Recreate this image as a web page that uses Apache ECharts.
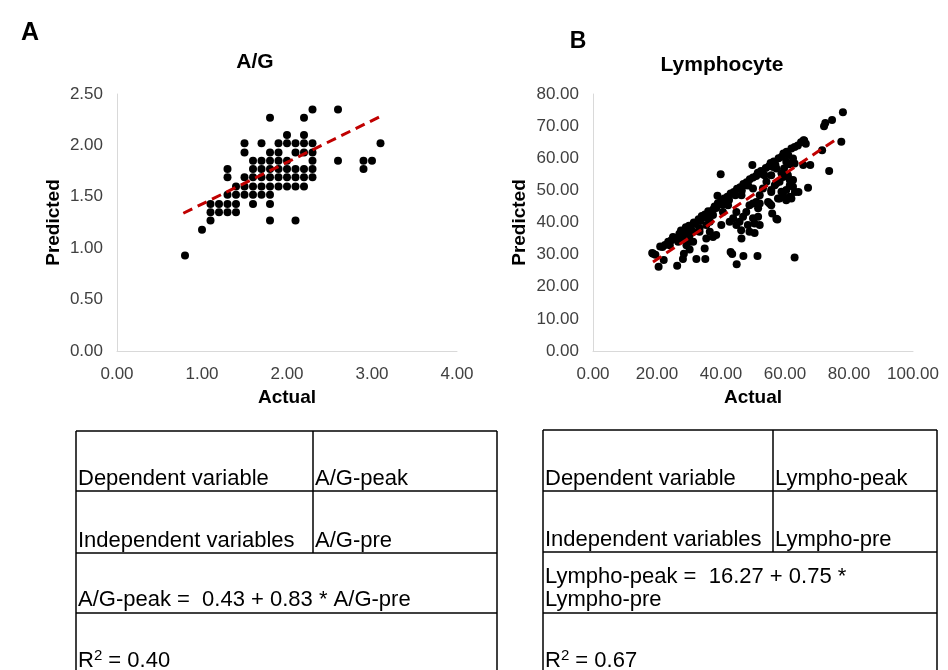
<!DOCTYPE html>
<html>
<head>
<meta charset="utf-8">
<script src="https://cdn.jsdelivr.net/npm/echarts@6/dist/echarts.min.js"></script>
<style>
  html, body { margin: 0; padding: 0; background: #fff; }
  #main { width: 948px; height: 670px; }
</style>
</head>
<body>
<div id="main"></div>
<script>
// A/G panel: [actual, predicted]
const agPoints = [
  [2.3, 2.35], [2.6, 2.35],
  [1.8, 2.27], [2.2, 2.27],
  [2.0, 2.10], [2.2, 2.10],
  [1.5, 2.02], [1.7, 2.02], [1.9, 2.02], [2.0, 2.02], [2.1, 2.02], [2.2, 2.02], [2.3, 2.02], [3.1, 2.02],
  [1.5, 1.93], [1.8, 1.93], [1.9, 1.93], [2.1, 1.93], [2.2, 1.93], [2.3, 1.93],
  [1.6, 1.85], [1.7, 1.85], [1.8, 1.85], [1.9, 1.85], [2.0, 1.85], [2.3, 1.85], [2.6, 1.85], [2.9, 1.85], [3.0, 1.85],
  [1.3, 1.77], [1.6, 1.77], [1.7, 1.77], [1.8, 1.77], [1.9, 1.77], [2.0, 1.77], [2.1, 1.77], [2.2, 1.77], [2.3, 1.77], [2.9, 1.77],
  [1.3, 1.69], [1.5, 1.69], [1.6, 1.69], [1.7, 1.69], [1.8, 1.69], [1.9, 1.69], [2.0, 1.69], [2.1, 1.69], [2.2, 1.69], [2.3, 1.69],
  [1.4, 1.60], [1.5, 1.60], [1.6, 1.60], [1.7, 1.60], [1.8, 1.60], [1.9, 1.60], [2.0, 1.60], [2.1, 1.60], [2.2, 1.60],
  [1.3, 1.52], [1.4, 1.52], [1.5, 1.52], [1.6, 1.52], [1.7, 1.52], [1.8, 1.52],
  [1.1, 1.43], [1.2, 1.43], [1.3, 1.43], [1.4, 1.43], [1.6, 1.43], [1.8, 1.43],
  [1.1, 1.35], [1.2, 1.35], [1.3, 1.35], [1.4, 1.35],
  [1.1, 1.27], [1.8, 1.27], [2.1, 1.27],
  [1.0, 1.18],
  [0.8, 0.93]
];
const agTrend = [[0.78, 1.34], [3.12, 2.29]];

// Lymphocyte panel: [actual, predicted]
const lyPoints = [
  // upper band
  [18.5, 30.5], [19.5, 30.0], [21.0, 32.5], [22.5, 33.0], [23.5, 34.0], [24.5, 34.5], [25.0, 35.5], [26.0, 35.0],
  [27.0, 36.5], [27.5, 37.5], [28.5, 37.0], [29.0, 38.5], [30.0, 39.0], [30.5, 38.0], [31.5, 40.0], [32.0, 39.5],
  [33.0, 41.0], [33.5, 40.5], [34.0, 42.0], [35.0, 42.5], [35.5, 41.5], [36.0, 43.5], [36.5, 43.0], [37.5, 44.0],
  [38.0, 45.0], [38.5, 44.5], [39.0, 46.0], [40.0, 46.5], [40.5, 45.5], [41.0, 47.5], [42.0, 48.0], [42.5, 47.0],
  [43.0, 49.0], [44.0, 49.5], [44.5, 48.5], [45.0, 50.5], [46.0, 51.0], [46.5, 50.0], [47.0, 52.0], [48.0, 52.5],
  [48.5, 51.5], [49.0, 53.5], [50.0, 54.0], [51.0, 54.5], [51.5, 55.5], [52.5, 56.0], [53.0, 55.0], [54.0, 57.0],
  [55.0, 57.5], [55.5, 58.5], [56.5, 59.0], [57.0, 58.0], [58.0, 60.0], [59.0, 60.5], [59.5, 61.5], [60.5, 62.0],
  [61.0, 61.0], [62.0, 63.0], [63.0, 63.5], [64.0, 64.0], [65.0, 65.0], [66.0, 65.5], [66.5, 64.5],
  // above band and top right
  [39.9, 55.0], [38.9, 48.3], [49.8, 57.9],
  [72.2, 70.0], [72.6, 71.0], [74.7, 71.9], [78.1, 74.3], [77.6, 65.1], [71.6, 62.5], [73.8, 56.0],
  [65.8, 65.6], [67.9, 57.9], [65.7, 57.9], [61.3, 58.1], [67.2, 50.8], [64.2, 49.5],
  // middle scatter
  [46.4, 48.5], [47.9, 51.6], [50.0, 50.6], [51.0, 46.4], [51.6, 41.8], [52.1, 39.2], [48.9, 37.1], [46.4, 35.0],
  [48.4, 39.2], [44.8, 39.2], [43.8, 41.3], [46.9, 41.8], [55.7, 49.5], [56.8, 51.6], [58.3, 52.7], [58.9, 55.3],
  [59.4, 48.5], [60.4, 46.9], [61.5, 51.6], [62.0, 47.5], [62.5, 53.2], [60.9, 54.7], [55.7, 45.4], [57.8, 47.5],
  [54.7, 46.4], [57.6, 40.9], [56.0, 42.8], [57.3, 41.2], [55.2, 45.9], [58.3, 47.5], [61.5, 48.0], [63.1, 49.5],
  [50.5, 39.7], [50.5, 36.7], [46.3, 37.6], [52.1, 45.9], [50.0, 45.9],
  [40.6, 43.3], [42.2, 45.4], [42.7, 40.2], [44.8, 43.3], [45.8, 40.2], [47.9, 43.3], [48.9, 45.4], [50.0, 41.3],
  [51.6, 44.4], [52.1, 48.5], [53.1, 50.6], [54.2, 52.7], [53.6, 54.7], [55.7, 54.7], [57.3, 56.8], [59.7, 56.8],
  [60.4, 58.9], [62.5, 59.9], [63.0, 58.4], [56.3, 57.3], [59.4, 54.2], [61.5, 53.2], [62.5, 51.1], [60.4, 50.1],
  [58.9, 49.6], [57.3, 52.2], [55.7, 50.1],
  // lower left scatter
  [36.5, 40.2], [37.5, 42.3], [35.4, 39.2], [33.3, 38.2], [31.3, 37.1], [36.5, 37.1], [38.5, 36.1], [40.1, 39.2],
  [28.1, 35.0], [30.2, 34.0], [26.6, 34.0], [24.0, 32.9],
  [33.3, 37.1], [35.4, 35.0], [37.5, 35.5], [30.2, 36.0], [29.2, 32.9], [31.3, 34.0], [34.9, 31.9],
  // bottom outliers
  [20.5, 26.2], [18.8, 30.3], [22.1, 28.3], [21.7, 32.4], [26.3, 26.5], [28.1, 28.6], [28.4, 30.3], [30.2, 31.6],
  [32.3, 28.6], [35.1, 28.6], [43.0, 30.8], [43.5, 30.2], [44.9, 27.0], [47.0, 29.6], [51.4, 29.6], [63.0, 29.1]
];
const lyTrend = [[18.75, 27.7], [76.0, 65.9]];

const agTable = ['Dependent variable', 'A/G-peak', 'Independent variables', 'A/G-pre'];
const agEquation = ['A/G-peak =  0.43 + 0.83 * A/G-pre'];
const agR2 = '0.40';
const lyTable = ['Dependent variable', 'Lympho-peak', 'Independent variables', 'Lympho-pre'];
const lyEquation = ['Lympho-peak =  16.27 + 0.75 *', 'Lympho-pre'];
const lyR2 = '0.67';

const FONT = 'Liberation Sans, Arial, sans-serif';
const chart = echarts.init(document.getElementById('main'));

function valueAxis(idx, max, interval, name, gap, isX) {
  return {
    type: 'value',
    gridIndex: idx,
    min: 0,
    max: max,
    interval: interval,
    name: name,
    nameLocation: 'middle',
    nameGap: gap,
    nameTextStyle: { fontFamily: FONT, fontSize: 19, fontWeight: 'bold', color: '#000' },
    axisLine: { show: true, lineStyle: { color: '#d9d9d9', width: 1 } },
    axisTick: { show: false },
    splitLine: { show: false },
    axisLabel: {
      fontFamily: FONT,
      fontSize: 17,
      color: '#404040',
      margin: isX ? 15 : 14,
      formatter: (v) => v.toFixed(2)
    }
  };
}

// table drawn as graphic lines + texts
function tableGraphic(left, right, top, col, rows, cells, eq, r2) {
  const els = [];
  const line = (x1, y1, x2, y2) => ({
    type: 'line',
    shape: { x1, y1, x2, y2 },
    style: { stroke: '#000', lineWidth: 1.5 }
  });
  const bottom = 690;
  els.push(line(left, top, right, top));
  els.push(line(left, top, left, bottom));
  els.push(line(right, top, right, bottom));
  rows.forEach((y) => els.push(line(left, y, right, y)));
  els.push(line(col, top, col, rows[1]));
  const txt = (x, y, t) => ({
    type: 'text',
    x, y,
    style: { text: t, fontFamily: FONT, fontSize: 22, fill: '#000', verticalAlign: 'middle' }
  });
  els.push(txt(left + 2, rows[0] - 12, cells[0]));
  els.push(txt(col + 2, rows[0] - 12, cells[1]));
  els.push(txt(left + 2, rows[1] - 12, cells[2]));
  els.push(txt(col + 2, rows[1] - 12, cells[3]));
  if (eq.length === 1) {
    els.push(txt(left + 2, rows[2] - 13, eq[0]));
  } else {
    els.push(txt(left + 2, rows[1] + 25, eq[0]));
    els.push(txt(left + 2, rows[1] + 48, eq[1]));
  }
  els.push({
    type: 'text',
    x: left + 2,
    y: 660,
    style: {
      text: '{a|R}{s|2}{a| = ' + r2 + '}',
      verticalAlign: 'middle',
      rich: {
        a: { fontFamily: FONT, fontSize: 22, fill: '#000', verticalAlign: 'bottom', lineHeight: 24 },
        s: { fontFamily: FONT, fontSize: 15, fill: '#000', verticalAlign: 'top', lineHeight: 24 }
      }
    }
  });
  return els;
}

const head = (x, y, t, size) => ({
  type: 'text',
  x, y,
  style: { text: t, fontFamily: FONT, fontSize: size, fontWeight: 'bold', fill: '#000', align: 'center', verticalAlign: 'middle' }
});

chart.setOption({
  backgroundColor: '#fff',
  animation: false,
  grid: [
    { left: 117, top: 94, width: 340, height: 257 },
    { left: 593, top: 94, width: 320, height: 257 }
  ],
  xAxis: [
    valueAxis(0, 4, 1, 'Actual', 37, true),
    valueAxis(1, 100, 20, 'Actual', 37, true)
  ],
  yAxis: [
    valueAxis(0, 2.5, 0.5, 'Predicted', 54, false),
    valueAxis(1, 80, 10, 'Predicted', 64, false)
  ],
  series: [
    {
      type: 'scatter', xAxisIndex: 0, yAxisIndex: 0,
      symbolSize: 8, itemStyle: { color: '#000', opacity: 1 },
      data: agPoints
    },
    {
      type: 'line', xAxisIndex: 0, yAxisIndex: 0,
      symbol: 'none', data: agTrend,
      lineStyle: { color: '#c00000', width: 3, type: [10, 6] }
    },
    {
      type: 'scatter', xAxisIndex: 1, yAxisIndex: 1,
      symbolSize: 8, itemStyle: { color: '#000', opacity: 1 },
      data: lyPoints
    },
    {
      type: 'line', xAxisIndex: 1, yAxisIndex: 1,
      symbol: 'none', data: lyTrend, z: 3,
      lineStyle: { color: '#c00000', width: 3, type: [10, 6] }
    }
  ],
  graphic: [
    head(30, 33, 'A', 25),
    head(578, 42, 'B', 23),
    head(255, 62, 'A/G', 21),
    head(722, 65, 'Lymphocyte', 21)
  ]
    .concat(tableGraphic(76, 497, 431, 313, [491, 553, 613], agTable, agEquation, agR2))
    .concat(tableGraphic(543, 937, 430, 773, [491, 552, 613], lyTable, lyEquation, lyR2))
});
</script>
</body>
</html>
